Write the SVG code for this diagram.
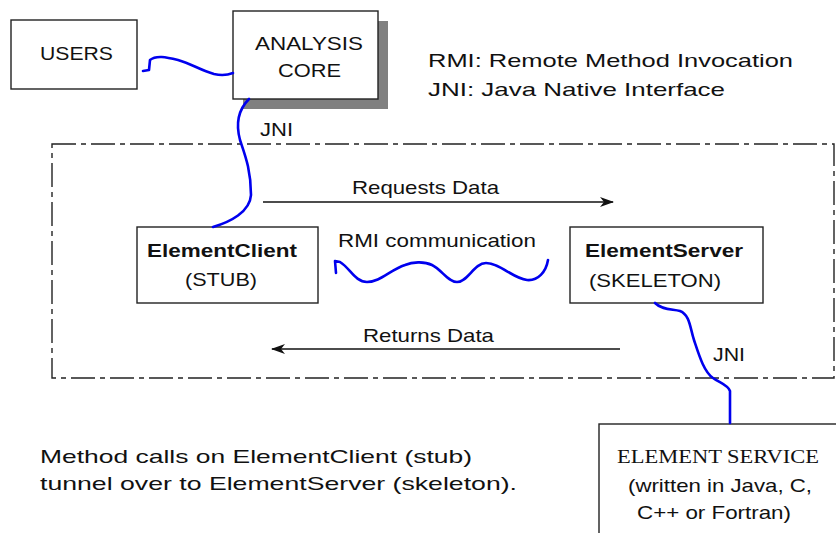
<svg xmlns="http://www.w3.org/2000/svg" width="836" height="533" viewBox="0 0 836 533">
<style>
.box{fill:#fff;stroke:#222;stroke-width:1.4}
.t{font-family:"Liberation Sans",Arial,sans-serif;font-size:19px;fill:#111}
.b{font-weight:bold}
.s{font-family:"Liberation Serif","Times New Roman",serif;font-size:19px;fill:#111}
.wire{fill:none;stroke:#0000ee;stroke-width:2.6;stroke-linecap:round;stroke-linejoin:round}
.arr{fill:none;stroke:#111;stroke-width:1.4}
</style>
<defs>
<marker id="ah" viewBox="0 0 14 10" refX="13" refY="5" markerWidth="14" markerHeight="10" markerUnits="userSpaceOnUse" orient="auto">
<path d="M0,0 L14,5 L0,10 L4,5 Z" fill="#111"/>
</marker>
</defs>
<rect width="836" height="533" fill="#fff"/>
<g id="rmi-boundary">
<rect x="52" y="144" width="782" height="234" fill="none" stroke="#222" stroke-width="1.4" stroke-dasharray="24 5 5 5"/>
</g>
<g id="legend">
<text class="t" x="428" y="67" textLength="365" lengthAdjust="spacingAndGlyphs">RMI: Remote Method Invocation</text>
<text class="t" x="428" y="96" textLength="297" lengthAdjust="spacingAndGlyphs">JNI:  Java Native Interface</text>
</g>
<g id="users">
<rect class="box" x="11" y="20" width="126" height="69"/>
<text class="t" x="40" y="60" textLength="73" lengthAdjust="spacingAndGlyphs">USERS</text>
</g>
<g id="analysis-core">
<rect x="243" y="21" width="145" height="88" fill="#808080"/>
<rect class="box" x="233" y="11" width="145" height="88"/>
<text class="t" x="255" y="50" textLength="108" lengthAdjust="spacingAndGlyphs">ANALYSIS</text>
<text class="t" x="278" y="77" textLength="63" lengthAdjust="spacingAndGlyphs">CORE</text>
</g>
<g id="element-client">
<rect class="box" x="137" y="227" width="181" height="76"/>
<text class="t b" x="147" y="257" textLength="150" lengthAdjust="spacingAndGlyphs">ElementClient</text>
<text class="t" x="185" y="286" textLength="72" lengthAdjust="spacingAndGlyphs">(STUB)</text>
</g>
<g id="element-server">
<rect class="box" x="570" y="227" width="193" height="76"/>
<text class="t b" x="585" y="257" textLength="158" lengthAdjust="spacingAndGlyphs">ElementServer</text>
<text class="t" x="589" y="287" textLength="132" lengthAdjust="spacingAndGlyphs">(SKELETON)</text>
</g>
<g id="element-service">
<rect class="box" x="599" y="424" width="260" height="130"/>
<text class="s" x="617" y="463" textLength="202" lengthAdjust="spacingAndGlyphs">ELEMENT SERVICE</text>
<text class="t" x="628" y="492" textLength="184" lengthAdjust="spacingAndGlyphs">(written in Java, C,</text>
<text class="t" x="637" y="519" textLength="154" lengthAdjust="spacingAndGlyphs">C++ or Fortran)</text>
</g>
<g id="note">
<text class="t" x="40" y="463" textLength="432" lengthAdjust="spacingAndGlyphs">Method calls on ElementClient (stub)</text>
<text class="t" x="40" y="490" textLength="477" lengthAdjust="spacingAndGlyphs">tunnel over to ElementServer (skeleton).</text>
</g>
<g id="connectors">
<path class="wire" d="M143,71 L149,70 L150,60 C156,55 166,57 178,60 C192,64 200,70 214,74 C222,76 228,75 233,73"/>
<path class="wire" d="M249,99 C238,110 236,125 240,140 C245,155 251,170 251,195 C250,212 230,222 213,227"/>
<text class="t" x="260" y="136" textLength="33" lengthAdjust="spacingAndGlyphs">JNI</text>
<line class="arr" x1="263" y1="202" x2="613" y2="202" marker-end="url(#ah)"/>
<text class="t" x="352" y="194" textLength="147" lengthAdjust="spacingAndGlyphs">Requests Data</text>
<text class="t" x="338" y="247" textLength="198" lengthAdjust="spacingAndGlyphs">RMI communication</text>
<path class="wire" d="M336,273 L335,261 L340,262 C350,268 355,282 367,282 C380,282 390,270 405,265 C412,262 424,261 432,265 C442,270 448,282 457,282 C468,282 474,263 486,263 C500,263 512,278 527,280 C538,281 546,272 548,260"/>
<line class="arr" x1="620" y1="349" x2="272" y2="349" marker-end="url(#ah)"/>
<text class="t" x="363" y="342" textLength="131" lengthAdjust="spacingAndGlyphs">Returns Data</text>
<path class="wire" d="M655,303 C662,310 672,309 680,311 C690,315 690,328 694,340 C699,355 704,372 713,378 C720,383 728,385 730,391 L730,423"/>
<text class="t" x="713" y="361" textLength="32" lengthAdjust="spacingAndGlyphs">JNI</text>
</g>
</svg>
